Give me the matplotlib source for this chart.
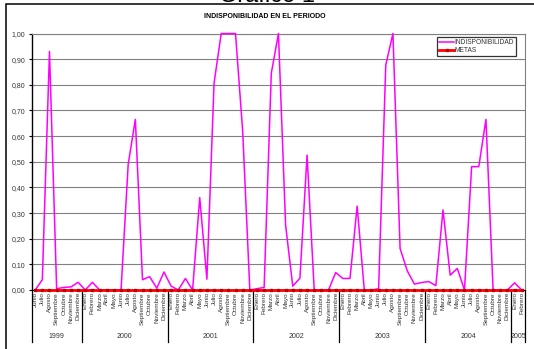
import numpy as np
import matplotlib
matplotlib.use("Agg")
import matplotlib.pyplot as plt
from matplotlib.patches import Rectangle
from matplotlib.ticker import FuncFormatter, MultipleLocator
import matplotlib.transforms as mtransforms

plt.rcParams['font.family'] = ['Liberation Sans', 'DejaVu Sans']

# Month names (Spanish) and the years they belong to
meses = ["Enero", "Febrero", "Marzo", "Abril", "Mayo", "Junio", "Julio",
         "Agosto", "Septiembre", "Octubre", "Noviembre", "Diciembre"]
meses_labels = (meses[5:] + meses * 5 + meses[:2])
anios = ["1999", "2000", "2001", "2002", "2003", "2004", "2005"]
meses_por_anio = [7, 12, 12, 12, 12, 12, 2]

indisponibilidad = [
    0.00, 0.04, 0.93, 0.005, 0.01, 0.012, 0.03,                          # 1999
    0.00, 0.03, 0.00, 0.00, 0.00, 0.00, 0.49, 0.665, 0.04, 0.052, 0.007, 0.07,  # 2000
    0.015, 0.00, 0.045, 0.00, 0.36, 0.042, 0.806, 1.00, 1.00, 1.00, 0.62, 0.00,  # 2001
    0.005, 0.01, 0.845, 1.00, 0.253, 0.015, 0.046, 0.526, 0.00, 0.00, 0.00, 0.068,  # 2002
    0.045, 0.045, 0.327, 0.00, 0.00, 0.005, 0.877, 1.00, 0.162, 0.075, 0.023, 0.029,  # 2003
    0.033, 0.017, 0.312, 0.058, 0.084, 0.00, 0.481, 0.481, 0.665, 0.00, 0.00, 0.00,  # 2004
    0.028, 0.00,                                                          # 2005
]
metas = [0.0] * len(indisponibilidad)

W, H = 534, 349
fig = plt.figure(figsize=(W / 100, H / 100), dpi=100)
fig.patch.set_facecolor("white")

# outer chart frame
fig.add_artist(Rectangle((6 / W, -0.2), 1.2, 0.2 + (1 - 4.3 / H),
                         transform=fig.transFigure, fill=False,
                         edgecolor="black", linewidth=1.1))
fig.text(0.5, 1 - 2.5 / H, "Gráfico 1", ha="center", va="baseline",
         fontsize=17)
fig.text(265 / W, 1 - 17 / H, "INDISPONIBILIDAD EN EL PERIODO",
         ha="center", va="center", fontsize=5, fontweight="bold")

left, right = 31.6 / W, 525.3 / W
bottom, top = 1 - 290 / H, 1 - 33.5 / H
ax = fig.add_axes([left, bottom, right - left, top - bottom])

x = np.arange(len(indisponibilidad))
ax.plot(x, indisponibilidad, color="#FF00FF", lw=1.1,
        label="INDISPONIBILIDAD", zorder=3, clip_on=False)
ax.plot(x, metas, color="#FF0000", lw=2.0, marker="s", markersize=1.6,
        markeredgecolor="#C00000", markerfacecolor="#C00000",
        label="METAS", zorder=4, clip_on=False)

ax.set_xlim(-0.5, len(x) - 0.5)
ax.set_ylim(0, 1.0)
ax.yaxis.set_major_locator(MultipleLocator(0.1))
ax.yaxis.set_major_formatter(FuncFormatter(lambda v, p: f"{v:.2f}".replace(".", ",")))
ax.tick_params(axis="y", labelsize=5, length=2.5, width=0.8, pad=2,
               colors="black", labelcolor="#333333")
ax.grid(axis="y", color="#808080", lw=0.8)
ax.set_axisbelow(True)

ax.set_xticks(x)
ax.set_xticklabels(meses_labels, rotation=90, fontsize=4.6, va="top",
                   ha="center", color="#333333")
ax.tick_params(axis="x", length=0, pad=1.5)

for s in ["top", "right"]:
    ax.spines[s].set_color("#808080")
    ax.spines[s].set_linewidth(0.8)
ax.spines["left"].set_color("black")
ax.spines["left"].set_linewidth(1.0)
ax.spines["bottom"].set_color("black")

# year groups below the month labels
trans = mtransforms.blended_transform_factory(ax.transData, ax.transAxes)
drop = (342 - 290) / (290 - 33.5)
edges = np.concatenate([[0], np.cumsum(meses_por_anio)]) - 0.5
for e in edges:
    ax.plot([e, e], [0, -drop], transform=trans, color="black",
            lw=0.9, clip_on=False)
for a, lo, hi in zip(anios, edges[:-1], edges[1:]):
    ax.text((lo + hi) / 2, -(337 - 290) / (290 - 33.5), a, transform=trans,
            ha="center", va="center", fontsize=5, color="#333333")

leg = ax.legend(loc="upper right", bbox_to_anchor=(516 / W, 1 - 37.3 / H),
                bbox_transform=fig.transFigure, fontsize=4.8, frameon=True,
                fancybox=False, handlelength=2.3, handletextpad=0.1,
                borderpad=0.25, labelspacing=0.15, borderaxespad=0)
leg.get_frame().set_edgecolor("black")
leg.get_frame().set_linewidth(0.9)
for t in leg.get_texts():
    t.set_color("#333333")

fig.savefig("out.png", dpi=100, facecolor="white")
